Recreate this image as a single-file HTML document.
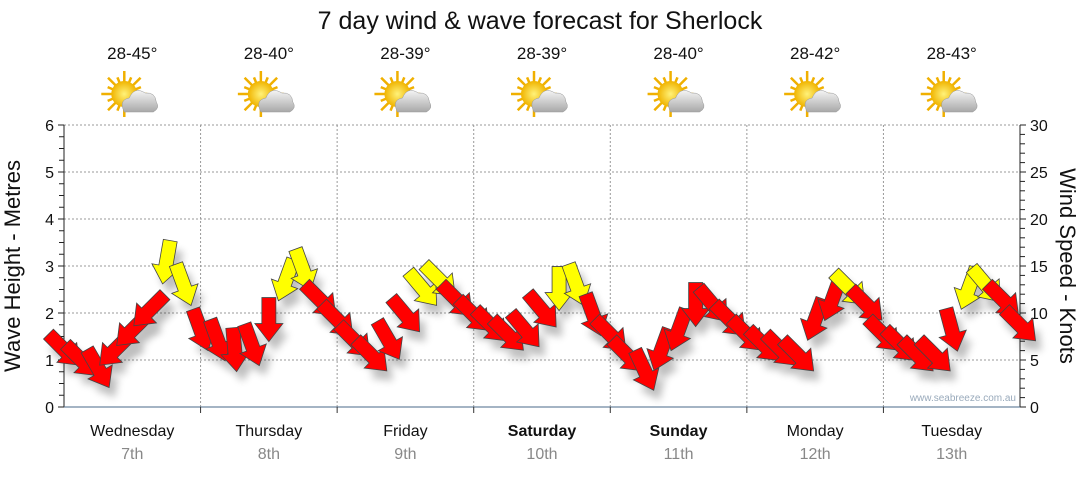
<!DOCTYPE html>
<html><head><meta charset="utf-8"><style>
body{margin:0;background:#fff;width:1080px;height:475px;overflow:hidden;font-family:"Liberation Sans",sans-serif}
svg text{font-family:"Liberation Sans",sans-serif}
</style></head><body>
<svg id="c" width="1080" height="475" xmlns="http://www.w3.org/2000/svg">
<defs>
<filter id="sh" x="-50%" y="-50%" width="200%" height="200%"><feGaussianBlur stdDeviation="4"/></filter>
<radialGradient id="sun" cx="50%" cy="50%" r="50%"><stop offset="0" stop-color="#fff27a"/><stop offset="1" stop-color="#f0b400"/></radialGradient>
<linearGradient id="cloud" x1="0" y1="0" x2="0" y2="1"><stop offset="0" stop-color="#f4f4f4"/><stop offset="1" stop-color="#a8a8a8"/></linearGradient>
</defs>
<text x="540" y="29" font-size="25" text-anchor="middle" fill="#111">7 day wind &amp; wave forecast for Sherlock</text>
<g id="grid"></g><g id="axes"></g><g id="topg"></g><g id="shadows" opacity="0.25"></g><g id="arrows"></g>
<text x="20" y="266" font-size="22" text-anchor="middle" transform="rotate(-90 20 266)" fill="#111">Wave Height - Metres</text>
<text x="1060" y="266" font-size="22" text-anchor="middle" transform="rotate(90 1060 266)" fill="#111">Wind Speed - Knots</text>
<text x="1016" y="401" font-size="10" text-anchor="end" fill="#9ab">www.seabreeze.com.au</text>
</svg>
<script>
const days=["Wednesday","Thursday","Friday","Saturday","Sunday","Monday","Tuesday"];
const dates=["7th","8th","9th","10th","11th","12th","13th"];
const boldDays=[false,false,false,true,true,false,false];
const temps=["28-45°","28-40°","28-39°","28-39°","28-40°","28-42°","28-43°"];
const waveTicks=[0,1,2,3,4,5,6];
const windTicks=[0,5,10,15,20,25,30];
const windSpeed=[6.1,5.0,4.1,6.1,8.2,10.3,15.4,13.0,
 8.2,7.1,6.1,6.6,9.3,13.5,14.6,11.4,
 9.3,7.1,5.5,7.1,9.8,12.6,13.5,11.4,
 9.8,8.7,7.7,8.2,10.3,12.6,13.0,9.8,
 7.7,5.5,3.9,6.1,8.2,10.9,10.9,9.3,
 7.7,6.6,6.1,5.5,9.3,11.4,12.6,10.9,
 7.7,6.6,5.5,5.5,8.2,12.6,13.0,11.4,8.7];
const windDir=[135,135,150,225,225,225,190,160,
 160,160,175,160,180,200,160,135,
 135,135,135,150,140,140,135,135,
 135,135,135,140,140,180,160,160,
 135,135,155,200,200,180,140,135,
 135,135,135,135,200,200,135,135,
 135,135,135,135,165,200,140,135,135];
const X0=64,X1=1020,Y0=407,Y1=125;
const NS="http://www.w3.org/2000/svg";
function xT(i){return X0+i*(X1-X0)/56;}
function yW(m){return Y0-m*(Y0-Y1)/6;}
function yK(k){return Y0-k*(Y0-Y1)/30;}
function mk(t,a,p){const e=document.createElementNS(NS,t);for(const k in a)e.setAttribute(k,a[k]);(p||document.getElementById('c')).appendChild(e);return e;}
const grid=document.getElementById('grid'),axes=document.getElementById('axes'),topG=document.getElementById('topg');
waveTicks.forEach(v=>{if(v>0){const g=mk('line',{x1:X0,x2:X1,y1:yW(v),y2:yW(v),stroke:'#999','stroke-dasharray':'2,2'},grid);}
 const t=mk('text',{x:X0-10,y:yW(v)+6,'font-size':16,'text-anchor':'end',fill:'#111'},axes);t.textContent=v;
 
 });
for(let m=0;m<=24;m++)mk('line',{x1:X0-(m%4?5:6),x2:X0,y1:yW(m/4),y2:yW(m/4),stroke:'#222'},axes);
windTicks.forEach(v=>{const t=mk('text',{x:X1+10,y:yK(v)+6,'font-size':16,fill:'#111'},axes);t.textContent=v;
 
 });
for(let m=0;m<=30;m++)mk('line',{x1:X1,x2:X1+(m%5?5:6),y1:yK(m),y2:yK(m),stroke:'#222'},axes);
mk('line',{x1:X0,x2:X0,y1:Y1,y2:Y0,stroke:'#222'},axes);
mk('line',{x1:X1,x2:X1,y1:Y1,y2:Y0,stroke:'#222'},axes);
mk('line',{x1:X0,x2:X1,y1:Y0,y2:Y0,stroke:'#4a6a8a'},axes);
const dw=(X1-X0)/7;
days.forEach((d,i)=>{const cx=X0+dw*(i+0.5);
 if(i>0){const g=mk('line',{x1:X0+dw*i,x2:X0+dw*i,y1:Y1,y2:Y0,stroke:'#999','stroke-dasharray':'2,2'},grid);
  
  
  mk('line',{x1:X0+dw*i,x2:X0+dw*i,y1:Y0,y2:Y0+6,stroke:'#333'},axes);}
 const t=mk('text',{x:cx,y:436,'font-size':16,'text-anchor':'middle',fill:'#111','font-weight':boldDays[i]?'bold':'normal'},axes);t.textContent=d;
 
 
 const t2=mk('text',{x:cx,y:459,'font-size':16,'text-anchor':'middle',fill:'#888'},axes);t2.textContent=dates[i];
 
 
 const t3=mk('text',{x:cx,y:59,'font-size':17,'text-anchor':'middle',fill:'#111'},topG);t3.textContent=temps[i];
 
 
 const g=mk('g',{transform:`translate(${cx-8},94)`},topG);
 
 
 for(let r=0;r<16;r++){const a=r*Math.PI/8;mk('line',{x1:0,y1:0,x2:Math.cos(a)*(r%2?18:23),y2:Math.sin(a)*(r%2?18:23),stroke:'#f0b000','stroke-width':2.5},g);}
 mk('circle',{cx:0,cy:0,r:13,fill:'url(#sun)'},g);
 mk('path',{d:'M0 18 Q-6 6 5 4 Q10 -8 21 -1 Q31 -2 32 8 Q36 14 29 18 Z',fill:'url(#cloud)',stroke:'#999','stroke-width':0.5},g);
});
const ap='M-7,-22 L7,-22 L7,4 L14,4 L0,22 L-14,4 L-7,4 Z';
const sh=document.getElementById('shadows'),ar=document.getElementById('arrows');
windSpeed.forEach((k,i)=>{const x=xT(i),y=yK(k),r=windDir[i]-180;
 mk('path',{d:ap,fill:'#000',filter:'url(#sh)',transform:`translate(${x+6},${y+10}) rotate(${r})`},sh);
 const a=mk('path',{d:ap,fill:k>=12.5?'#ffff00':'#ff0000',stroke:'#444','stroke-width':0.8,transform:`translate(${x},${y}) rotate(${r})`},ar);
 
 
});
</script>
</body></html>
